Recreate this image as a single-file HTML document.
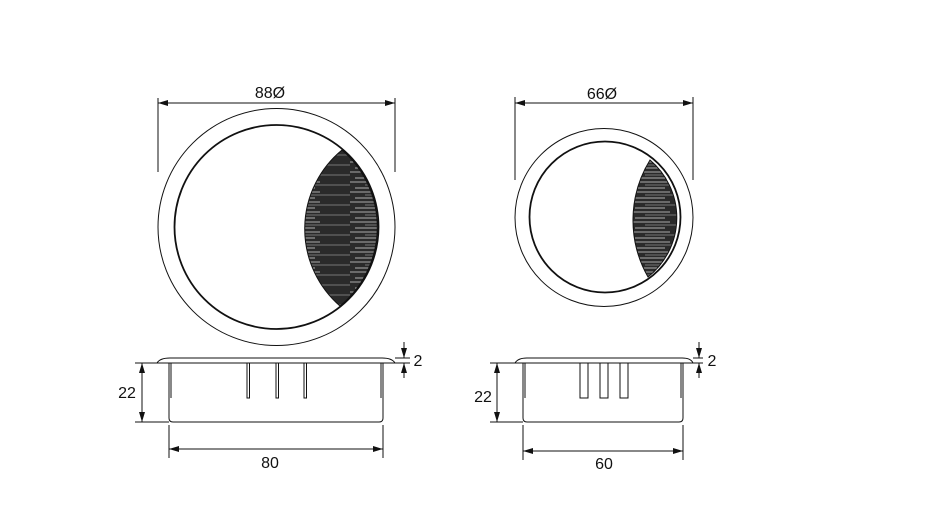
<!DOCTYPE html>
<html><head><meta charset="utf-8"><style>
html,body{margin:0;padding:0;background:#fff;}
svg{display:block;}
text{font-family:"Liberation Sans",Arial,sans-serif;font-size:16px;fill:#111;}
</style></head><body>
<svg width="945" height="531" viewBox="0 0 945 531" xmlns="http://www.w3.org/2000/svg">
<defs>
<marker id="a" markerWidth="10" markerHeight="6" refX="10" refY="3" orient="auto-start-reverse" markerUnits="userSpaceOnUse"><path d="M0,0 L10,3 L0,6 Z" fill="#111"/></marker>
<pattern id="br" width="70" height="10" patternUnits="userSpaceOnUse">
<rect width="70" height="10" fill="#2a2a2a"/>
<line x1="0" y1="2" x2="40" y2="2" stroke="#aaa" stroke-width="0.9"/>
<line x1="15" y1="5" x2="70" y2="5" stroke="#666" stroke-width="1.2"/>
<line x1="5" y1="8" x2="35" y2="8" stroke="#ddd" stroke-width="0.7"/>
</pattern>
</defs>
<g fill="none" stroke="#111" stroke-width="1">
<circle cx="276.5" cy="227" r="118.5"/>
<circle cx="276.5" cy="227" r="102" stroke-width="1.8"/>
<path d="M342,150 A102,102 0 0 1 340,306 A102,102 0 0 1 342,150 Z" fill="url(#br)" stroke="#111"/>
<line x1="158" y1="98" x2="158" y2="172"/>
<line x1="395" y1="98" x2="395" y2="172"/>
<line x1="158" y1="103" x2="395" y2="103" marker-start="url(#a)" marker-end="url(#a)"/>
<circle cx="604" cy="217.5" r="89"/>
<circle cx="605" cy="217" r="75.5" stroke-width="1.8"/>
<path d="M650,160 A75.5,75.5 0 0 1 648,277 A115,115 0 0 1 650,160 Z" fill="url(#br)" stroke="#111"/>
<line x1="515" y1="97" x2="515" y2="180"/>
<line x1="693" y1="97" x2="693" y2="180"/>
<line x1="515" y1="103" x2="693" y2="103" marker-start="url(#a)" marker-end="url(#a)"/>
<path d="M157,363 Q160,358 170,358 L382,358 Q392,358 395,363 Z"/>
<path d="M169,363 L169,418 Q169,422 173,422 L379,422 Q383,422 383,418 L383,363"/>
<line x1="171" y1="363" x2="171" y2="398"/>
<line x1="381" y1="363" x2="381" y2="398"/>
<rect x="247" y="363" width="2.5" height="35"/>
<rect x="276" y="363" width="2.5" height="35"/>
<rect x="304" y="363" width="2.5" height="35"/>
<line x1="135" y1="363" x2="169" y2="363"/>
<line x1="135" y1="422" x2="169" y2="422"/>
<line x1="142" y1="363" x2="142" y2="422" marker-start="url(#a)" marker-end="url(#a)"/>
<line x1="169" y1="425" x2="169" y2="458"/>
<line x1="383" y1="425" x2="383" y2="458"/>
<line x1="169" y1="449" x2="383" y2="449" marker-start="url(#a)" marker-end="url(#a)"/>
<line x1="395" y1="358" x2="410" y2="358"/>
<line x1="395" y1="363" x2="410" y2="363"/>
<line x1="404" y1="342" x2="404" y2="358" marker-end="url(#a)"/>
<line x1="404" y1="378" x2="404" y2="363" marker-end="url(#a)"/>
<path d="M515,363 Q518,358 527,358 L682,358 Q691,358 693,363 Z"/>
<path d="M523,363 L523,418 Q523,422 527,422 L679,422 Q683,422 683,418 L683,363"/>
<line x1="525" y1="363" x2="525" y2="398"/>
<line x1="681" y1="363" x2="681" y2="398"/>
<rect x="580" y="363" width="8" height="35"/>
<rect x="600" y="363" width="8" height="35"/>
<rect x="620" y="363" width="8" height="35"/>
<line x1="490" y1="363" x2="523" y2="363"/>
<line x1="490" y1="422" x2="523" y2="422"/>
<line x1="497" y1="363" x2="497" y2="422" marker-start="url(#a)" marker-end="url(#a)"/>
<line x1="523" y1="425" x2="523" y2="460"/>
<line x1="683" y1="425" x2="683" y2="460"/>
<line x1="523" y1="451" x2="683" y2="451" marker-start="url(#a)" marker-end="url(#a)"/>
<line x1="693" y1="358" x2="703" y2="358"/>
<line x1="693" y1="363" x2="703" y2="363"/>
<line x1="699" y1="342" x2="699" y2="358" marker-end="url(#a)"/>
<line x1="699" y1="378" x2="699" y2="363" marker-end="url(#a)"/>
</g>
<text x="270" y="98" text-anchor="middle">88Ø</text>
<text x="602" y="99" text-anchor="middle">66Ø</text>
<text x="127" y="398" text-anchor="middle">22</text>
<text x="270" y="468" text-anchor="middle">80</text>
<text x="418" y="366" text-anchor="middle">2</text>
<text x="483" y="402" text-anchor="middle">22</text>
<text x="604" y="469" text-anchor="middle">60</text>
<text x="712" y="366" text-anchor="middle">2</text>
</svg>
</body></html>
